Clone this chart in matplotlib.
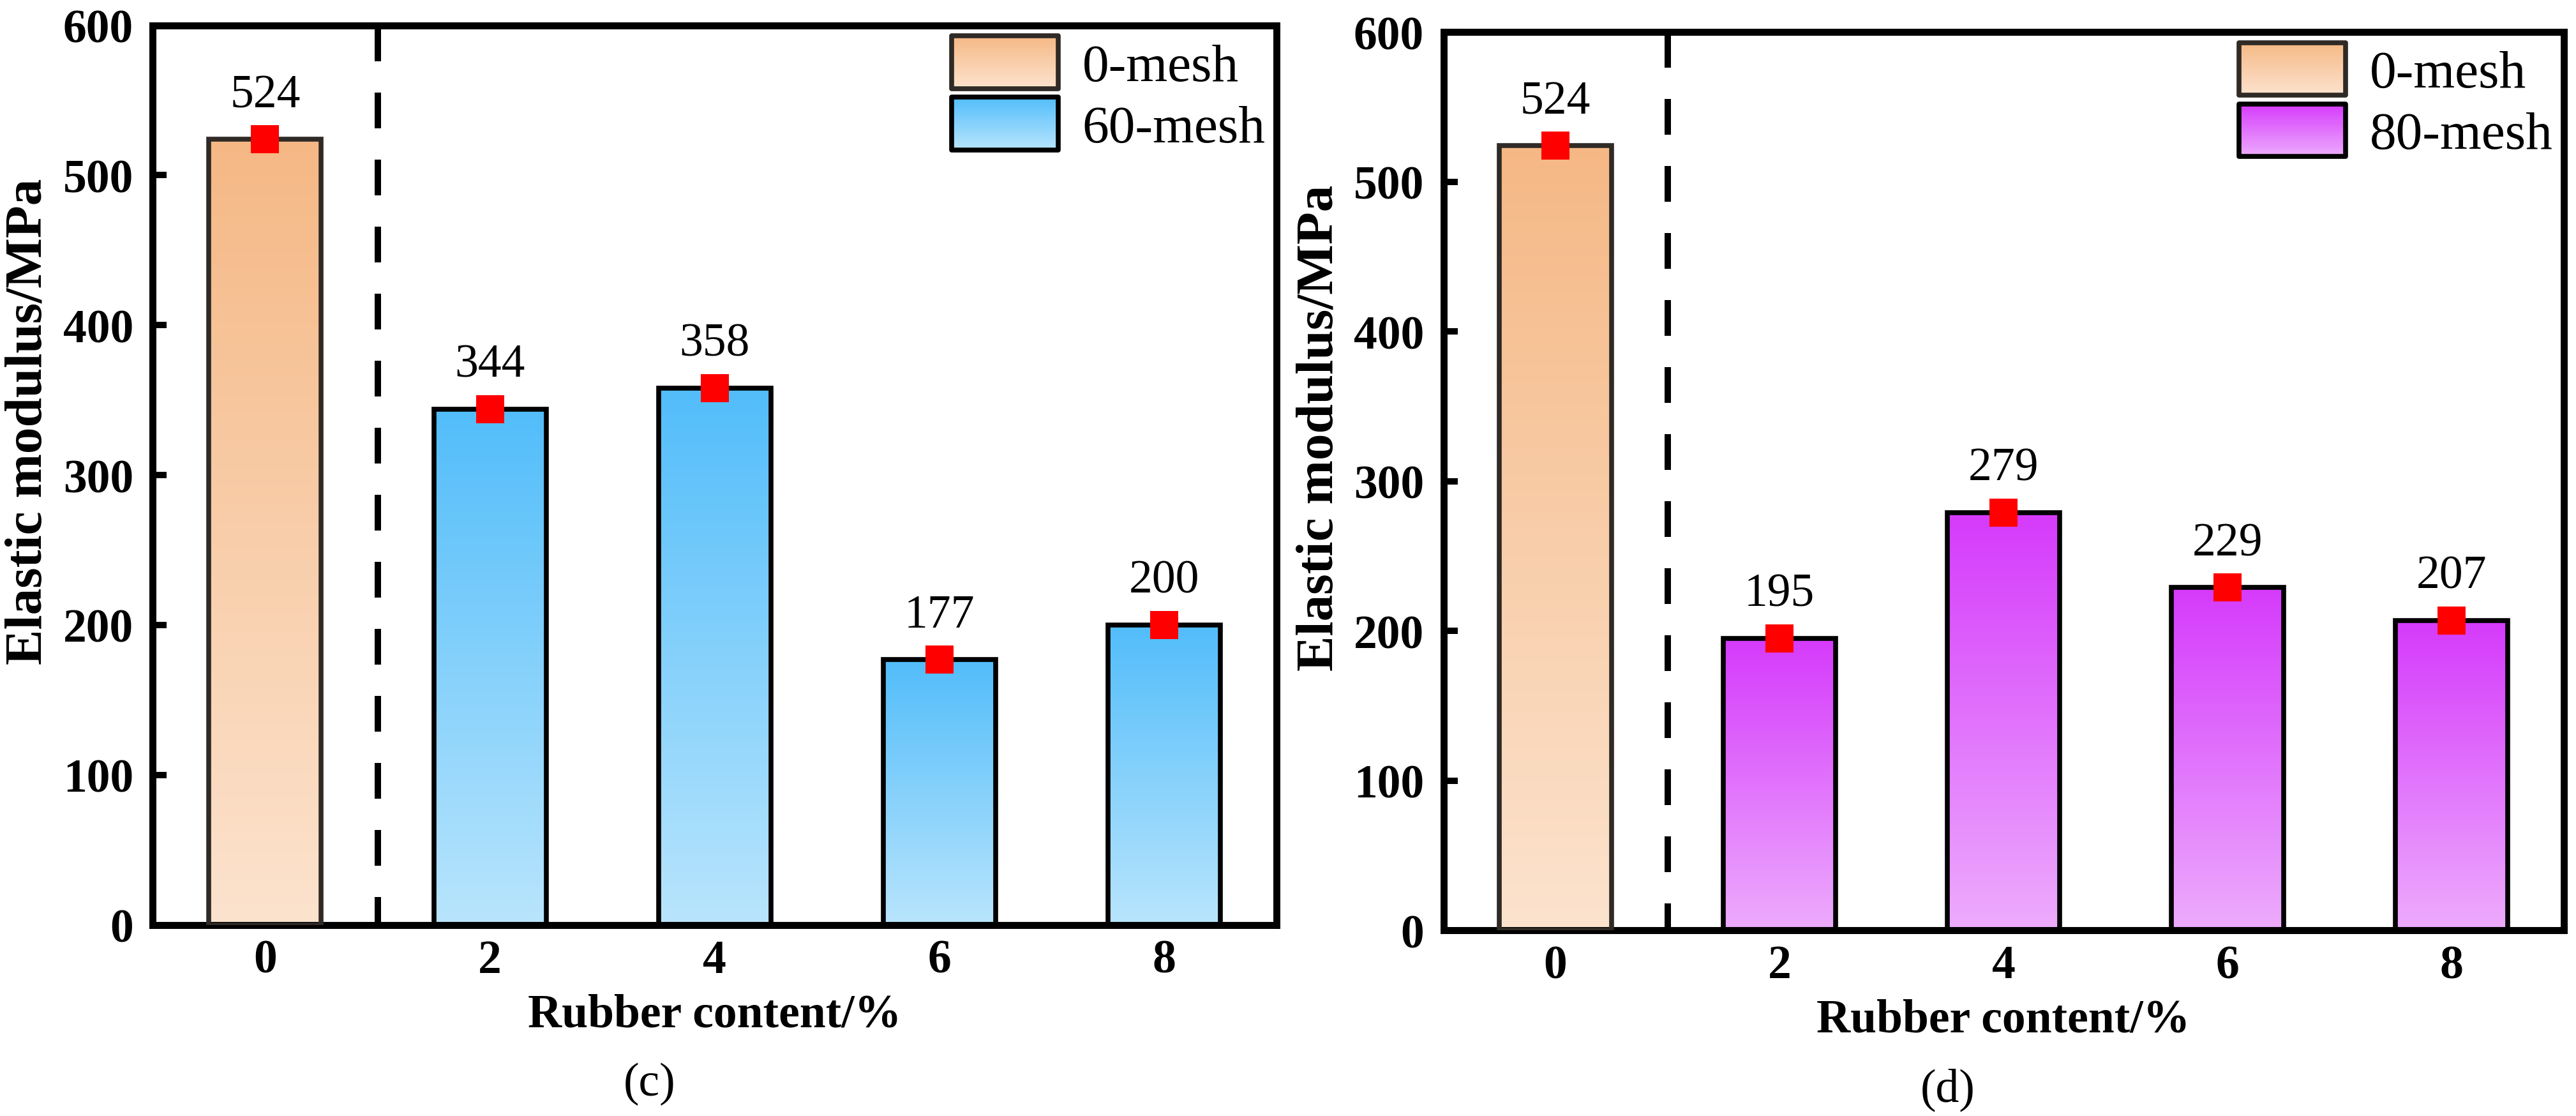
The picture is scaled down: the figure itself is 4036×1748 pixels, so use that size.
import numpy as np
import matplotlib
matplotlib.use("Agg")
import matplotlib.pyplot as plt
import matplotlib.colors as mcolors
from matplotlib.patches import Rectangle
from matplotlib.legend_handler import HandlerBase

# ---------------- data ----------------
categories = ["0", "2", "4", "6", "8"]
ref_value = [524]                      # 0-mesh (plain) at 0 %
mesh60_values = [344, 358, 177, 200]   # 60-mesh at 2,4,6,8 %
mesh80_values = [195, 279, 229, 207]   # 80-mesh at 2,4,6,8 %
legend_ref = "0-mesh"
legend_60 = "60-mesh"
legend_80 = "80-mesh"
panel_labels = ["(c)", "(d)"]
xlabel = "Rubber content/%"
ylabel = "Elastic modulus/MPa"
yticks = [0, 100, 200, 300, 400, 500, 600]

# ---------------- styles ----------------
FONT = ["Liberation Serif", "DejaVu Serif"]
plt.rcParams["font.family"] = FONT
FS = 53
YL_FS = 60
LEG_FS = 60
SPINE_LW = 7.9
BAR_LW = 5.5
BAR_W = 0.5

ORANGE = ("#F5B885", "#FCE3CE")
BLUE = ("#52BDFA", "#B9E5FD")
PURPLE = ("#D53AFB", "#EDACFD")
REF_EDGE = "#2F2A25"


def gradient_array(top, bottom, n=256):
    t = np.array(mcolors.to_rgb(top))
    b = np.array(mcolors.to_rgb(bottom))
    f = np.linspace(0, 1, n)[:, None]  # 0 bottom -> 1 top
    arr = b + (t - b) * f
    return arr[:, None, :]


class GradientHandler(HandlerBase):
    def __init__(self, top, bottom, edge, n=80):
        super().__init__()
        self.top = np.array(mcolors.to_rgb(top))
        self.bottom = np.array(mcolors.to_rgb(bottom))
        self.edge = edge
        self.n = n

    def create_artists(self, legend, orig_handle, xdescent, ydescent,
                       width, height, fontsize, trans):
        arts = []
        n = self.n
        for i in range(n):
            f = (i + 0.5) / n
            c = self.bottom + (self.top - self.bottom) * f
            r = Rectangle((-xdescent, -ydescent + height * i / n), width,
                          height / n * 1.3, facecolor=c, edgecolor="none",
                          antialiased=False, transform=trans)
            arts.append(r)
        outline = Rectangle((-xdescent, -ydescent), width, height,
                            facecolor="none", edgecolor=self.edge,
                            lw=BAR_LW, joinstyle="round", transform=trans)
        arts.append(outline)
        return arts


def draw_panel(ax, mesh_values, mesh_colors, mesh_label, panel_label, label_x):
    x = np.arange(len(categories))
    values = ref_value + mesh_values
    edges = [REF_EDGE] + ["black"] * len(mesh_values)
    cols = [ORANGE] + [mesh_colors] * len(mesh_values)

    bars = ax.bar(x, values, width=BAR_W, facecolor="none",
                  edgecolor=edges, linewidth=BAR_LW, zorder=3)
    for patch, (top, bot) in zip(bars.patches, cols):
        x0, w, h = patch.get_x(), patch.get_width(), patch.get_height()
        ax.imshow(gradient_array(top, bot), extent=[x0, x0 + w, 0, h],
                  origin="lower", aspect="auto", interpolation="bilinear",
                  zorder=2)

    ax.plot(x, values, "s", color="#FF0000", ms=31, mew=0, zorder=5,
            clip_on=False)
    for xi, v in zip(x, values):
        ax.annotate(f"{v}", (xi, v), xytext=(0, 36.7),
                    textcoords="offset points", ha="center", va="baseline",
                    fontsize=FS, zorder=6)

    # dashed separator between control and rubber groups
    ax.plot([0.5, 0.5], [600, 0], color="black", lw=7.2,
            linestyle=(0, (5.6, 4.9)), zorder=1)

    ax.set_xlim(-0.5, len(categories) - 0.5)
    ax.set_ylim(0, 600)
    ax.set_xticks(x, labels=categories, fontweight="bold")
    ax.set_yticks(yticks, labels=[str(t) for t in yticks], fontweight="bold")
    ax.tick_params(axis="both", direction="in", length=15.8, width=7.2,
                   labelsize=FS)
    ax.tick_params(axis="x", pad=16)
    ax.tick_params(axis="y", pad=22)
    for s in ax.spines.values():
        s.set_linewidth(SPINE_LW)

    ax.set_xlabel(xlabel, fontsize=FS, fontweight="bold", labelpad=12)
    ax.set_ylabel(ylabel, fontsize=YL_FS, fontweight="bold")
    ax.yaxis.set_label_coords(-0.089, 0.56)

    ax.text(label_x, -0.177, panel_label, transform=ax.transAxes,
            ha="center", va="center", fontsize=FS)

    p0 = Rectangle((0, 0), 1, 1)
    p1 = Rectangle((0, 0), 1, 1)
    leg = ax.legend([p0, p1], [legend_ref, mesh_label], loc="upper right",
                    bbox_to_anchor=(1.0, 1.0), frameon=False,
                    fontsize=LEG_FS, handlelength=2.0, handleheight=1.15,
                    handletextpad=0.46, labelspacing=0.1, borderpad=0.0,
                    borderaxespad=0.2,
                    handler_map={p0: GradientHandler(*ORANGE, REF_EDGE),
                                 p1: GradientHandler(*mesh_colors, "black")})
    leg.set_zorder(7)


fig = plt.figure(figsize=(40.36, 17.49), dpi=100)
ax1 = fig.add_axes([0.05934, 0.17124, 0.43608, 0.80560])
ax2 = fig.add_axes([0.56034, 0.16638, 0.43484, 0.80446])

draw_panel(ax1, mesh60_values, BLUE, legend_60, panel_labels[0], 0.442)
draw_panel(ax2, mesh80_values, PURPLE, legend_80, panel_labels[1], 0.45)

fig.savefig("out.png", dpi=100)
